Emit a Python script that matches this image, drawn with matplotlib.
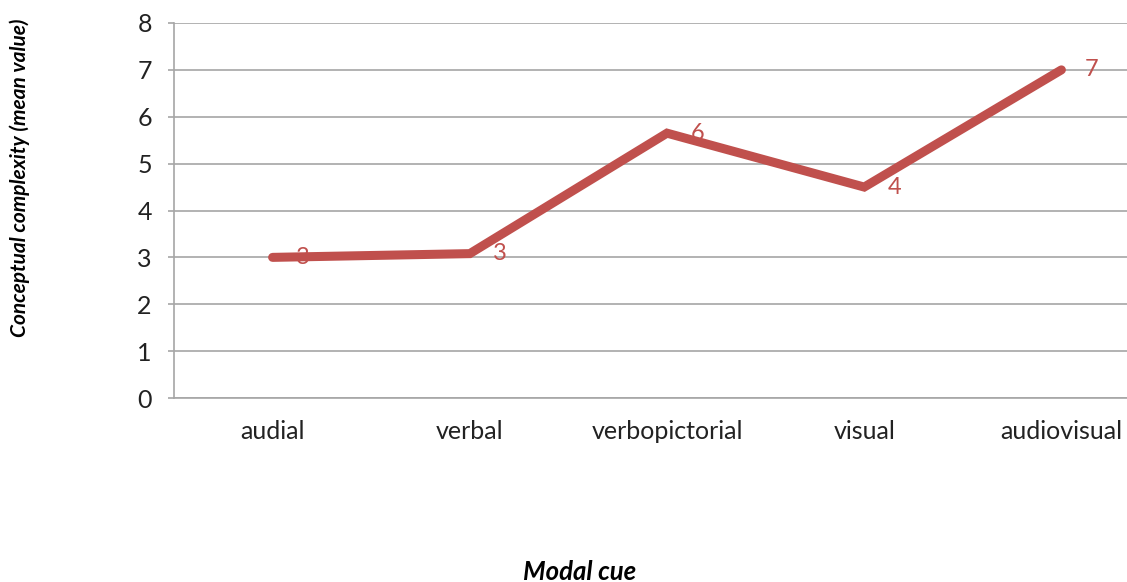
import matplotlib.pyplot as plt

# categories and mean values
cues = ['audial', 'verbal', 'verbopictorial', 'visual', 'audiovisual']
means = [3.0, 3.08, 5.65, 4.5, 7.0]
labels = ['3', '3', '6', '4', '7']

plt.rcParams['font.family'] = ['Lato', 'DejaVu Sans']
red = '#C0504D'
grey = '#A6A6A6'

fig = plt.figure(figsize=(11.27, 5.82), dpi=100)
ax = fig.add_axes([174 / 1127, 1 - 398 / 582, 986 / 1127, 375 / 582])

x = list(range(len(cues)))
ax.plot(x, means, color=red, lw=6.5, solid_capstyle='round', solid_joinstyle='miter', zorder=3)
for xi, yi, lab in zip(x, means, labels):
    ax.annotate(lab, (xi, yi), xytext=(17, 0), textcoords='offset points',
                va='center', ha='left', color=red, fontsize=17, zorder=4)

ax.set_xlim(-0.5, 4.5)
ax.set_ylim(0, 8)
ax.set_yticks(range(9))
ax.set_xticks(x)
ax.set_xticklabels(cues)
ax.yaxis.grid(True, color=grey, lw=1.2)
ax.set_axisbelow(True)
for s in ['top', 'right']:
    ax.spines[s].set_visible(False)
for s in ['left', 'bottom']:
    ax.spines[s].set_color(grey)
    ax.spines[s].set_linewidth(1.2)
ax.tick_params(axis='y', length=4, color=grey, width=1.2, pad=12, labelsize=18, labelcolor='#222222')
ax.tick_params(axis='x', length=0, pad=16, labelsize=18, labelcolor='#222222')

fig.text(580 / 1127, 1 - 572 / 582, 'Modal cue', ha='center', va='center',
         fontsize=18.5, fontweight='bold', fontstyle='italic')
fig.text(20 / 1127, 1 - 178 / 582, 'Conceptual complexity (mean value)', ha='center', va='center',
         rotation=90, fontsize=15, fontweight='bold', fontstyle='italic')

fig.savefig('out.png', dpi=100)
